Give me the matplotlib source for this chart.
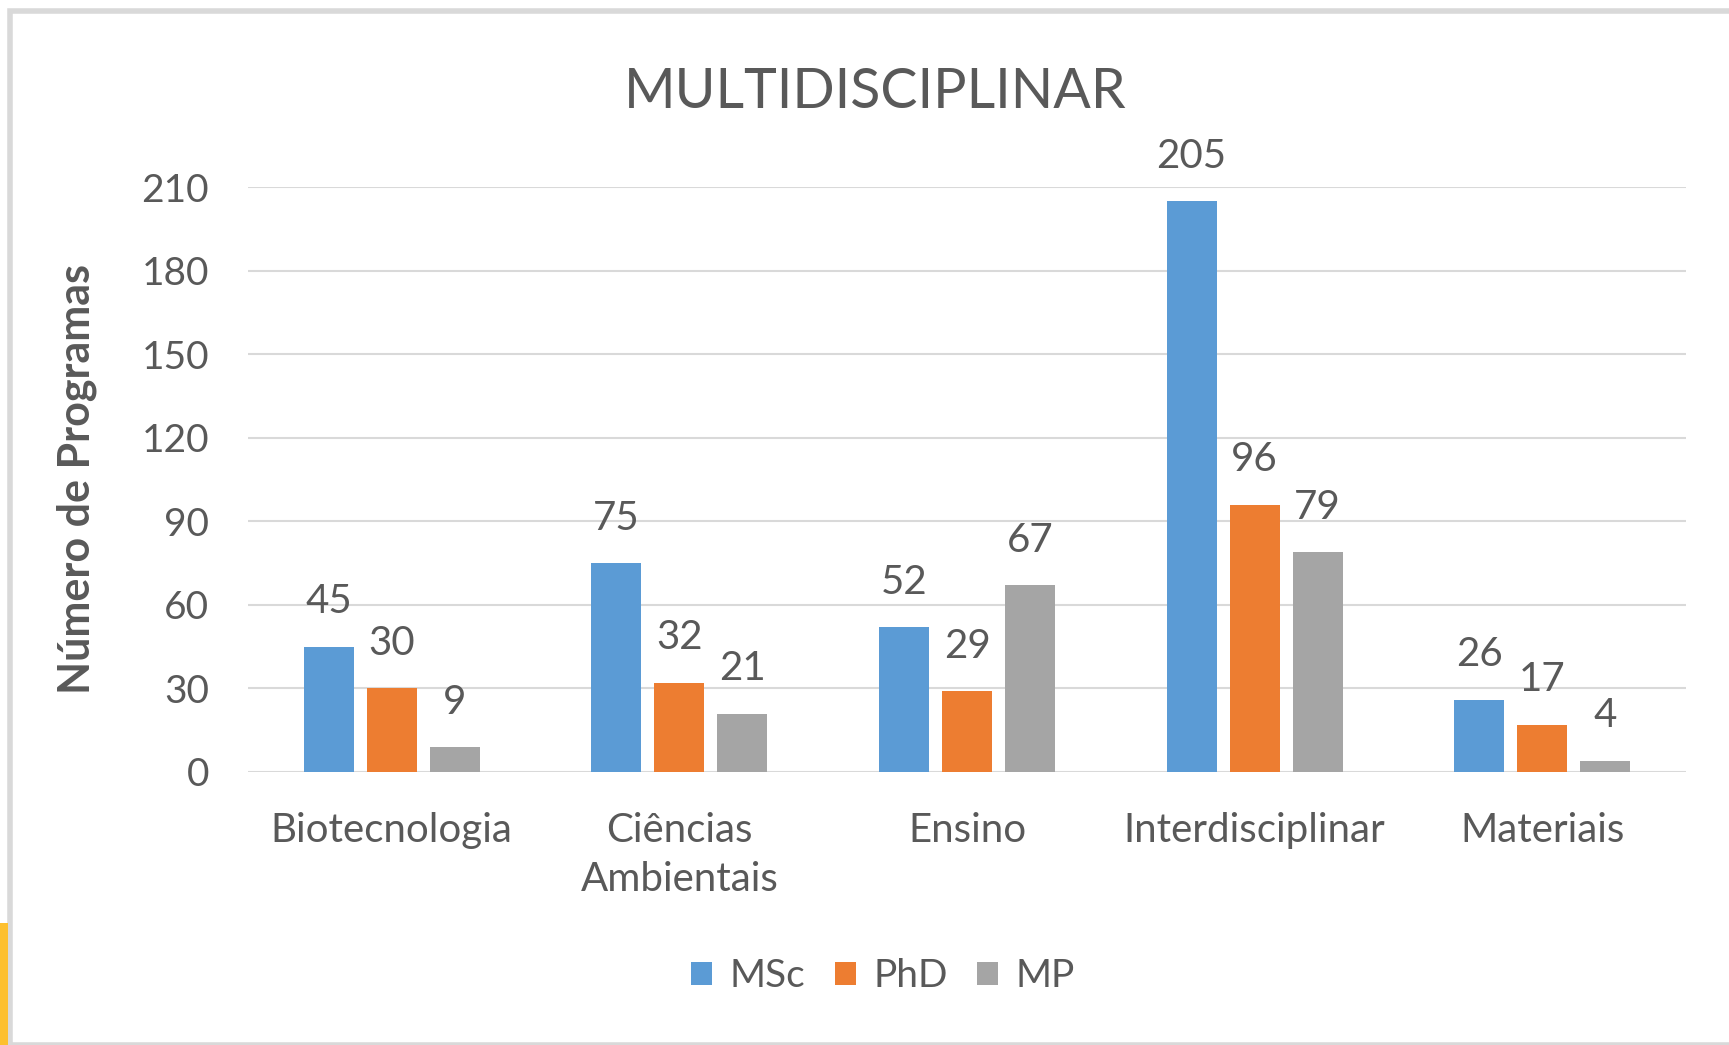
import numpy as np
import matplotlib.pyplot as plt
from matplotlib.patches import Rectangle

# data
categories  = ['Biotecnologia', 'Ciências\nAmbientais', 'Ensino', 'Interdisciplinar', 'Materiais']
series      = ['MSc', 'PhD', 'MP']
msc         = [45, 75, 52, 205, 26]
phd         = [30, 32, 29, 96, 17]
mp          = [9, 21, 67, 79, 4]
yticks      = [0, 30, 60, 90, 120, 150, 180, 210]

colors      = ['#5B9BD5', '#ED7D31', '#A5A5A5']
txt_col     = '#595959'
grid_col    = '#D9D9D9'

plt.rcParams['font.family'] = ['Lato', 'DejaVu Sans']

W, H = 1729, 1045
fig = plt.figure(figsize=(W/100, H/100), dpi=100)

# frame and yellow stripe, like the screenshot
fig.patches.append(Rectangle((10/W, 0), 2, 1 - 11/H, transform=fig.transFigure,
                             facecolor='white', edgecolor=grid_col, linewidth=4, zorder=-2))
fig.patches.append(Rectangle((0, 0), 8/W, 1 - 923/H, transform=fig.transFigure,
                             facecolor='#FDC02F', edgecolor='none', zorder=-1))

left, bottom = 248/W, 1 - 772/H
ax = fig.add_axes([left, bottom, 1438/W, (772-187)/H])
ax.set_facecolor('none')

x     = np.arange(len(categories))
step  = 0.219
width = 0.174
for i, (vals, name) in enumerate(zip([msc, phd, mp], series)):
    bars = ax.bar(x + (i-1)*step, vals, width, color=colors[i], label=name, zorder=3)
    for b, v in zip(bars, vals):
        ax.annotate(str(v), (b.get_x() + b.get_width()/2, v), xytext=(0, 19),
                    textcoords='offset points', ha='center', va='bottom',
                    fontsize=29, color=txt_col)

ax.set_xlim(-0.5, len(categories)-0.5)
ax.set_ylim(0, 210)
ax.set_yticks(yticks)
ax.set_xticks(x)
ax.set_xticklabels(categories, linespacing=1.38)
ax.tick_params(axis='y', length=0, pad=28, labelsize=28, labelcolor=txt_col)
ax.tick_params(axis='x', length=0, pad=29, labelsize=29, labelcolor=txt_col)
for s in ax.spines.values():
    s.set_visible(False)
ax.yaxis.grid(True, color=grid_col, linewidth=1.5, zorder=0)
ax.set_axisbelow(True)

ax.set_ylabel('Número de Programas', fontsize=31, color=txt_col, fontweight='bold')
ax.yaxis.set_label_coords(-(248-97)/1438, 0.5)

fig.text(875/W, 1 - 93/H, 'MULTIDISCIPLINAR', ha='center', va='center',
         fontsize=40, color=txt_col)

fig.legend(*ax.get_legend_handles_labels(), loc='center',
           bbox_to_anchor=(883/W, 1 - 976/H), ncol=3,
           frameon=False, fontsize=28, labelcolor=txt_col, handlelength=0.55,
           handleheight=0.55, handletextpad=0.45, columnspacing=0.75)

fig.savefig('out.png', dpi=100)
